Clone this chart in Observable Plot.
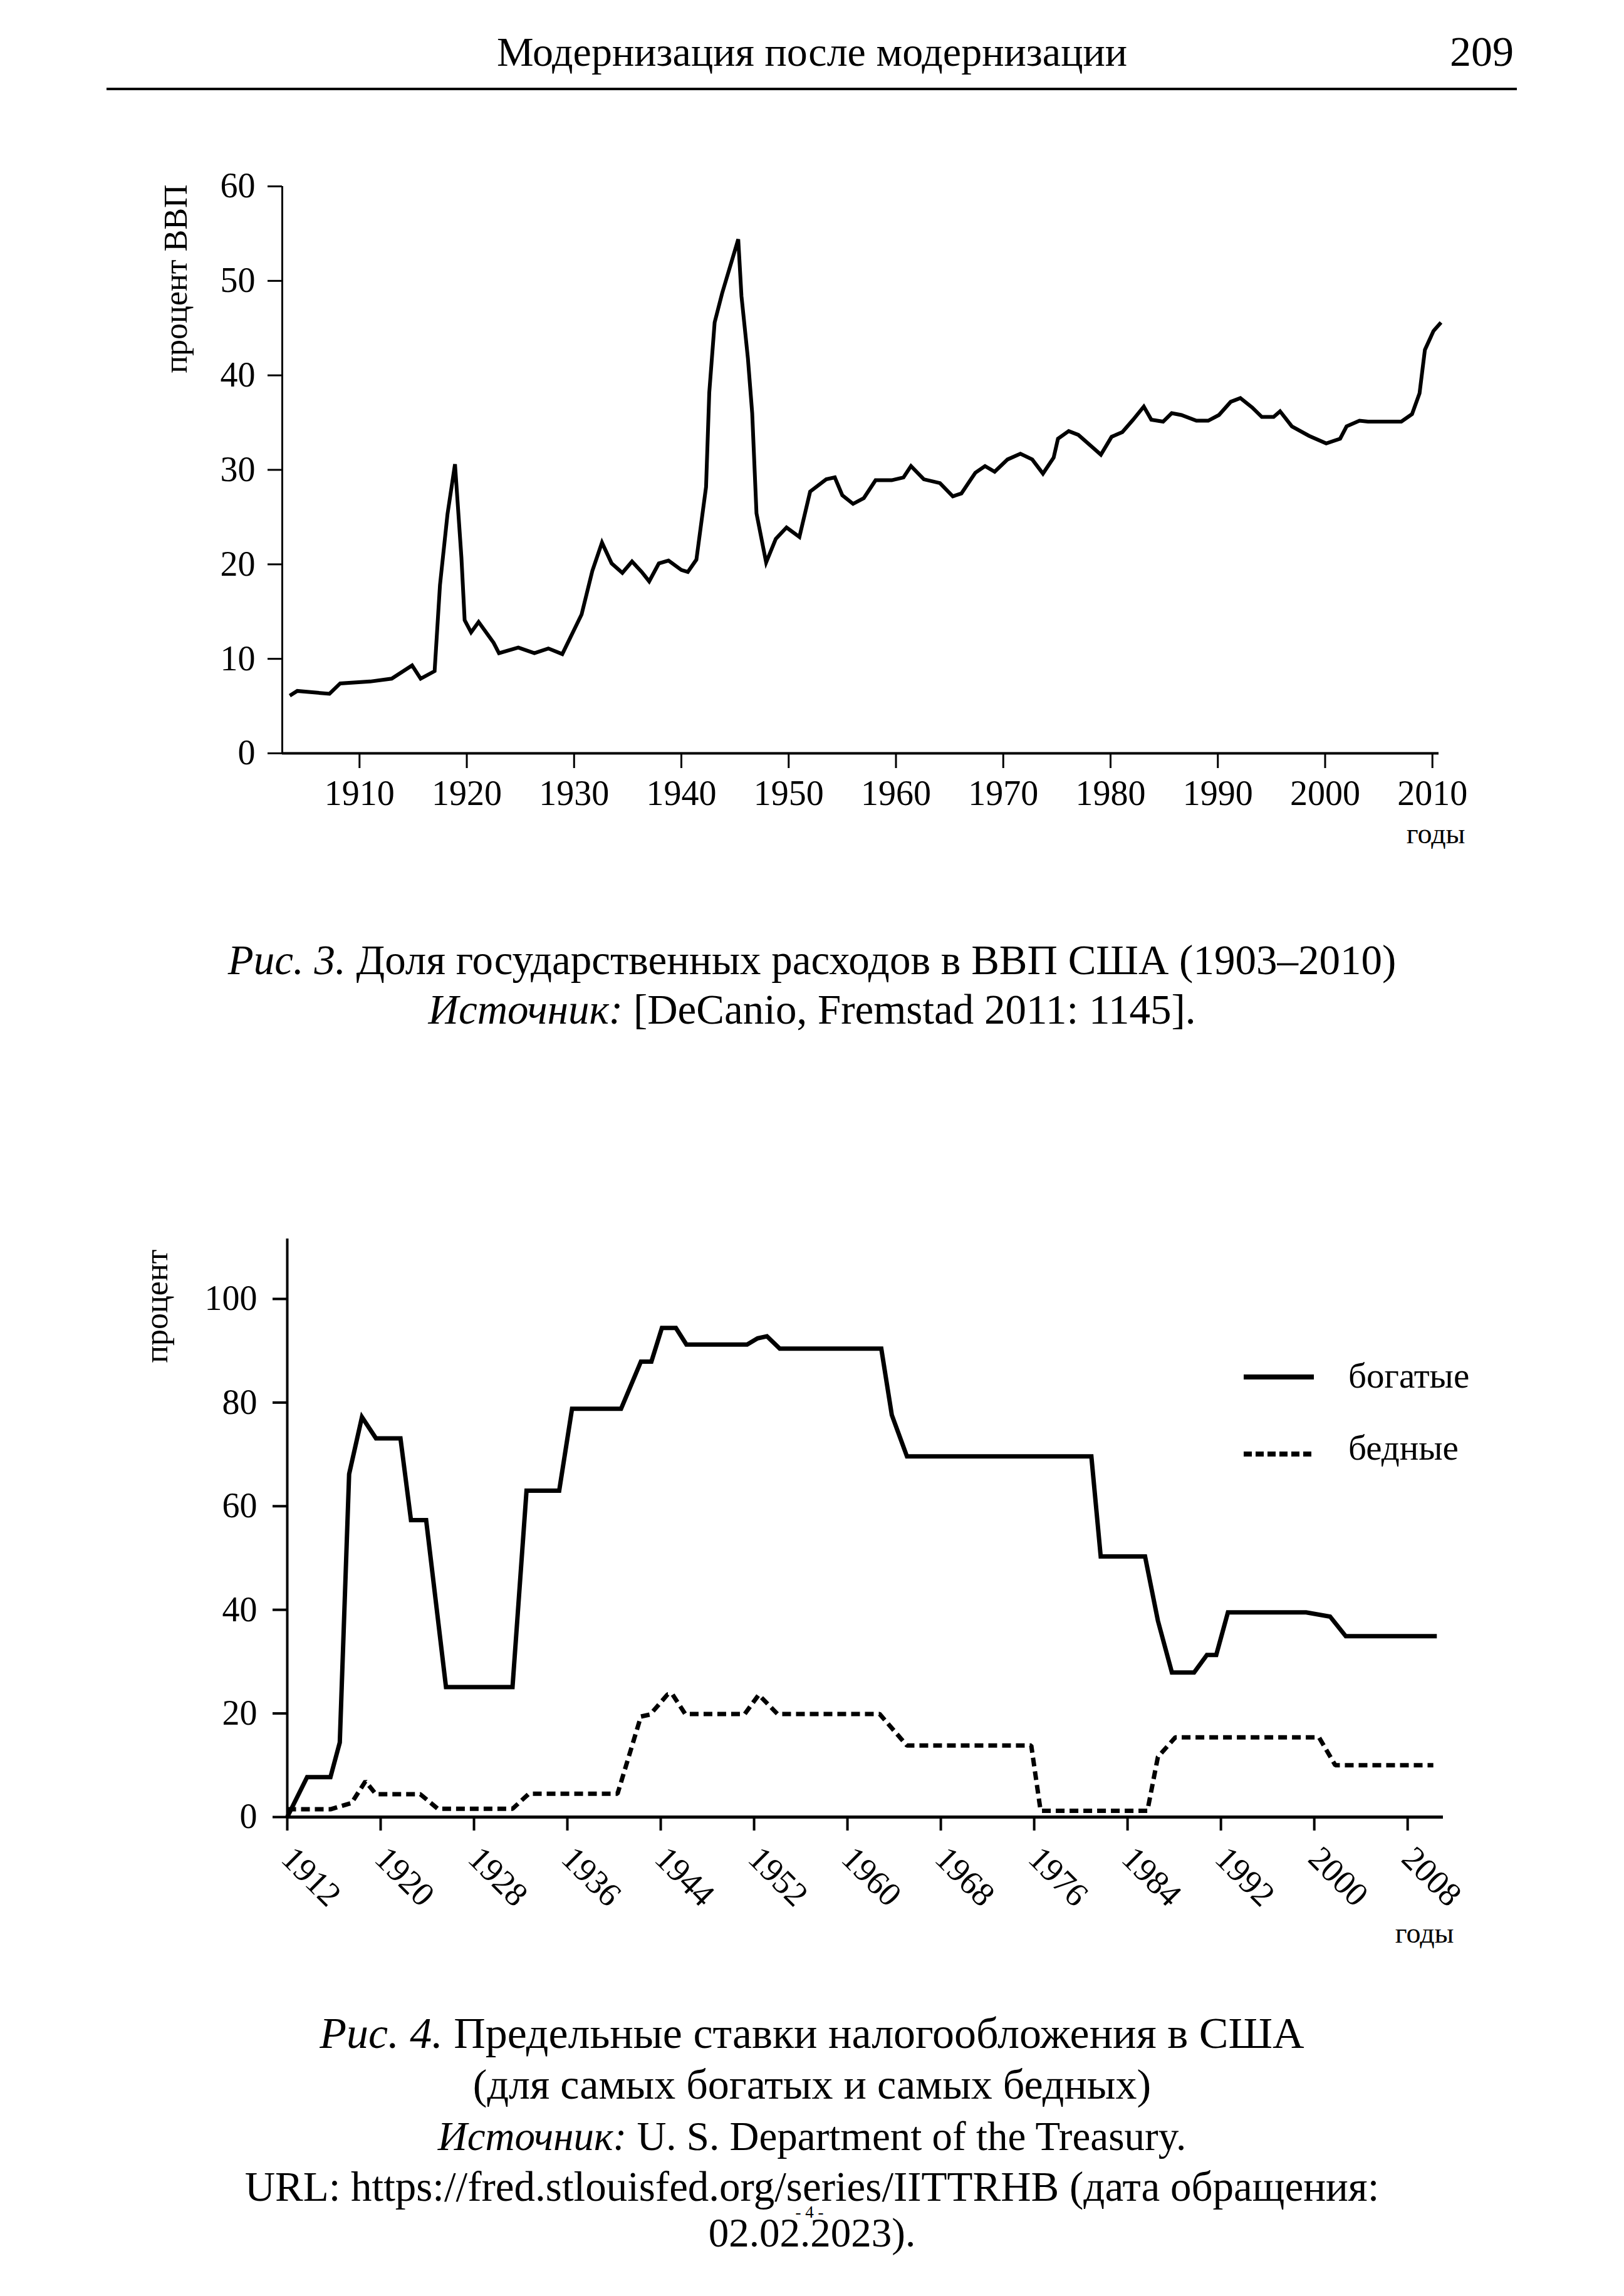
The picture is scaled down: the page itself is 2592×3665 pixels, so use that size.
<!DOCTYPE html>
<html>
<head>
<meta charset="utf-8">
<script src="https://cdn.jsdelivr.net/npm/d3@7"></script>
<script src="https://cdn.jsdelivr.net/npm/@observablehq/plot@0.6"></script>
<style>
  html, body { margin: 0; padding: 0; background: #fff; }
  #page { position: relative; width: 2592px; height: 3665px; background: #fff; overflow: hidden;
          font-family: "Liberation Serif", "DejaVu Serif", serif; color: #000; }
  .line { position: absolute; left: 0; width: 2592px; text-align: center; white-space: nowrap; }
  .abs { position: absolute; white-space: nowrap; }
  svg { overflow: visible; }
</style>
</head>
<body>
<div id="page">
  <div class="line" style="top:50px;font-size:66px;line-height:66px;">Модернизация после модернизации</div>
  <div class="abs" style="right:176px;top:48px;font-size:68px;line-height:68px;">209</div>
  <div class="abs" style="left:170px;top:140px;width:2251px;height:4px;background:#000;"></div>

  <div id="chart1" class="abs" style="left:0;top:230px;"></div>

  <div class="line" style="top:1499px;font-size:67px;line-height:67px;"><i>Рис. 3.</i> Доля государственных расходов в ВВП США (1903–2010)</div>
  <div class="line" style="top:1578px;font-size:67px;line-height:67px;"><i>Источник:</i> [DeCanio, Fremstad 2011: 1145].</div>

  <div id="chart2" class="abs" style="left:0;top:1950px;"></div>

  <div id="legend2" class="abs" style="left:1985px;top:2150px;width:420px;height:220px;"></div>

  <div class="line" style="top:3211px;font-size:70px;line-height:70px;"><i>Рис. 4.</i> Предельные ставки налогообложения в США</div>
  <div class="line" style="top:3293px;font-size:68px;line-height:68px;">(для самых богатых и самых бедных)</div>
  <div class="line" style="top:3378px;font-size:65px;line-height:65px;"><i>Источник:</i> U. S. Department of the Treasury.</div>
  <div class="line" style="top:3457px;font-size:67px;line-height:67px;">URL: https://fred.stlouisfed.org/series/IITTRHB (дата обращения:</div>
  <div class="line" style="top:3518px;font-size:27px;line-height:27px;left:-4px;">- 4 -</div>
  <div class="line" style="top:3532px;font-size:65px;line-height:65px;">02.02.2023).</div>
</div>
<script>
// ---------- Figure 3: government spending share of GDP ----------
const govYears = [1903.5,1904.2,1907.2,1908.2,1911.0,1913.0,1914.9,1915.7,1917.0,1917.5,1918.2,1918.9,1919.5,1919.8,1920.4,1921.1,1922.5,1923.0,1924.8,1926.3,1927.6,1928.9,1930.7,1931.7,1932.6,1933.5,1934.5,1935.4,1936.3,1937.0,1937.9,1938.8,1940.0,1940.6,1941.4,1942.3,1942.6,1943.1,1943.8,1945.3,1945.6,1946.2,1946.6,1947.0,1947.9,1948.8,1949.8,1951.0,1952.0,1953.5,1954.3,1955.0,1956.0,1957.0,1958.1,1959.6,1960.7,1961.4,1962.6,1964.1,1965.3,1966.1,1967.4,1968.3,1969.2,1970.4,1971.6,1972.7,1973.7,1974.7,1975.1,1976.1,1977.0,1978.3,1979.1,1980.1,1981.1,1982.1,1983.1,1983.8,1984.9,1985.7,1986.6,1988.0,1989.1,1990.1,1991.2,1992.1,1993.2,1994.1,1995.2,1995.8,1996.9,1998.5,2000.1,2001.4,2002.0,2003.2,2004.0,2007.1,2008.1,2008.8,2009.3,2010.1,2010.8];
const govShare = [6.1,6.6,6.3,7.4,7.6,7.9,9.3,7.9,8.7,17.8,25.3,30.6,20.7,14.1,12.8,13.9,11.7,10.6,11.2,10.6,11.1,10.5,14.7,19.3,22.3,20.1,19.1,20.3,19.2,18.2,20.1,20.4,19.4,19.2,20.5,28.2,38.2,45.6,48.7,54.4,48.4,41.8,36.0,25.4,20.2,22.7,23.9,22.9,27.7,29.0,29.2,27.3,26.4,27.0,28.9,28.9,29.2,30.4,29.0,28.6,27.2,27.5,29.7,30.4,29.8,31.1,31.7,31.1,29.6,31.3,33.3,34.1,33.7,32.4,31.6,33.5,34.0,35.3,36.7,35.3,35.1,36.0,35.8,35.2,35.2,35.8,37.2,37.6,36.6,35.6,35.6,36.2,34.6,33.6,32.8,33.3,34.6,35.2,35.1,35.1,35.9,38.1,42.7,44.7,45.6];
const govXTicks = [1910,1920,1930,1940,1950,1960,1970,1980,1990,2000,2010];
const govYTicks = [0,10,20,30,40,50,60];
const govYLabel = "процент ВВП";
const xLabel = "годы";

// ---------- Figure 4: marginal tax rates ----------
const richYears = [1912.0,1913.7,1915.7,1916.5,1917.3,1918.4,1919.6,1921.7,1922.6,1923.9,1925.6,1931.3,1932.5,1935.3,1936.4,1940.6,1942.3,1943.2,1944.1,1945.3,1946.2,1951.4,1952.3,1953.1,1954.2,1962.9,1963.8,1965.1,1980.9,1981.7,1985.5,1986.6,1987.8,1989.7,1990.8,1991.6,1992.6,1999.3,2001.35,2002.7,2010.5];
const richRate = [0,7.7,7.7,14.4,66.2,77.2,73.1,73.1,57.3,57.3,25.1,25.1,63.0,63.0,78.8,78.8,87.9,87.9,94.4,94.4,91.2,91.2,92.4,92.8,90.4,90.4,77.6,69.6,69.6,50.3,50.3,37.9,27.9,27.9,31.3,31.3,39.5,39.5,38.7,34.9,34.9];
const poorYears = [1912.0,1915.7,1917.5,1918.7,1919.6,1923.4,1924.9,1931.3,1932.7,1940.3,1942.3,1943.1,1944.6,1945.0,1946.1,1951.2,1952.4,1954.0,1962.75,1965.1,1975.75,1976.55,1985.7,1986.6,1988.1,2000.4,2001.8,2010.2];
const poorRate = [1.5,1.5,2.7,6.9,4.4,4.4,1.6,1.6,4.5,4.5,19.4,19.8,23.7,23.7,19.9,19.9,23.6,19.9,19.9,13.8,13.8,1.2,1.2,11.6,15.4,15.4,10.0,10.0];
const taxXTicks = [1912,1920,1928,1936,1944,1952,1960,1968,1976,1984,1992,2000,2008];
const taxYTicks = [0,20,40,60,80,100];
const taxYLabel = "процент";
const seriesNames = ["богатые", "бедные"];

const gov = govYears.map((y, i) => ({year: y, value: govShare[i]}));
const rich = richYears.map((y, i) => ({year: y, value: richRate[i]}));
const poor = poorYears.map((y, i) => ({year: y, value: poorRate[i]}));

const font = "'Liberation Serif', 'DejaVu Serif', serif";

const chart1 = Plot.plot({
  width: 2592, height: 1140,
  marginTop: 67, marginBottom: 168, marginLeft: 450, marginRight: 296,
  style: {fontFamily: font, color: "#000", background: "transparent", overflow: "visible"},
  x: {domain: [1902.8, 2010.6]},
  y: {domain: [0, 60]},
  marks: [
    Plot.axisY({ticks: govYTicks, tickSize: 23, tickPadding: 20, strokeWidth: 3, label: null, fontSize: 56, tickFormat: d => String(d)}),
    Plot.axisX({ticks: govXTicks, tickSize: 24, tickPadding: 19, strokeWidth: 3, label: null, fontSize: 56, tickFormat: d => String(d)}),
    Plot.ruleY([0], {strokeWidth: 4}),
    Plot.ruleX([1902.8], {strokeWidth: 3}),
    Plot.line(gov, {x: "year", y: "value", stroke: "#000", strokeWidth: 6, strokeLinejoin: "miter", strokeMiterlimit: 4, strokeLinecap: "butt"}),
    Plot.text([govYLabel], {frameAnchor: "top-left", dx: -153, dy: -3, rotate: -90, textAnchor: "end", lineAnchor: "bottom", fontSize: 52}),
    Plot.text([xLabel], {frameAnchor: "bottom-right", dx: 42, dy: 143, textAnchor: "end", lineAnchor: "bottom", fontSize: 46})
  ]
});
document.getElementById("chart1").appendChild(chart1);

const chart2 = Plot.plot({
  width: 2592, height: 1200,
  marginTop: 27, marginBottom: 250, marginLeft: 458, marginRight: 289,
  style: {fontFamily: font, color: "#000", background: "transparent", overflow: "visible"},
  x: {domain: [1912, 2011.05]},
  y: {domain: [0, 111.6]},
  marks: [
    Plot.axisY({ticks: taxYTicks, tickSize: 23, tickPadding: 25, strokeWidth: 4, label: null, fontSize: 56, tickFormat: d => String(d)}),
    Plot.axisX({ticks: taxXTicks, tickSize: 22, strokeWidth: 4, label: null, tickFormat: () => ""}),
    Plot.text(taxXTicks, {x: d => d, text: d => String(d), frameAnchor: "bottom", dy: 57, rotate: 45, textAnchor: "start", lineAnchor: "middle", fontSize: 54}),
    Plot.ruleY([0], {strokeWidth: 5}),
    Plot.ruleX([1912], {strokeWidth: 4}),
    Plot.line(poor, {x: "year", y: "value", stroke: "#000", strokeWidth: 7, strokeDasharray: "14,8", strokeLinejoin: "miter", strokeLinecap: "butt"}),
    Plot.line(rich, {x: "year", y: "value", stroke: "#000", strokeWidth: 7, strokeLinejoin: "miter", strokeMiterlimit: 4, strokeLinecap: "butt"}),
    Plot.text([taxYLabel], {frameAnchor: "top-left", dx: -192, dy: 17, rotate: -90, textAnchor: "end", lineAnchor: "bottom", fontSize: 52}),
    Plot.text([xLabel], {frameAnchor: "bottom-right", dx: 17, dy: 200, textAnchor: "end", lineAnchor: "bottom", fontSize: 46})
  ]
});
document.getElementById("chart2").appendChild(chart2);

// legend (inside the plot area, top right)
const lg = d3.select("#legend2").append("svg").attr("width", 420).attr("height", 220)
  .style("font-family", font);
const rows = [{name: seriesNames[0], dash: null, y: 48, base: 65}, {name: seriesNames[1], dash: "13,6", y: 171, base: 180}];
rows.forEach(r => {
  lg.append("line").attr("x1", 0).attr("x2", 112).attr("y1", r.y).attr("y2", r.y)
    .attr("stroke", "#000").attr("stroke-width", 8).attr("stroke-dasharray", r.dash);
  lg.append("text").attr("x", 167).attr("y", r.base).attr("font-size", 57).text(r.name);
});
</script>
</body>
</html>
